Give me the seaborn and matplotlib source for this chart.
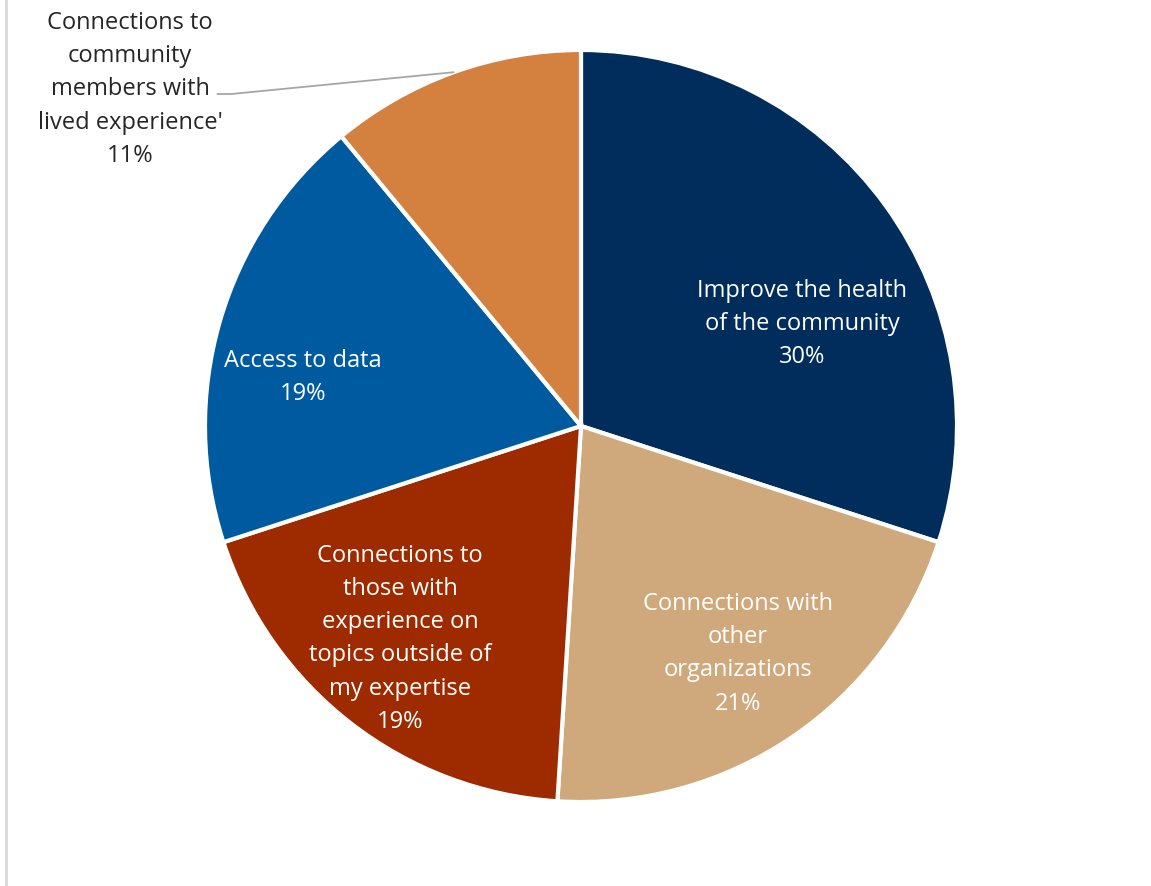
import matplotlib
matplotlib.use("Agg")
import matplotlib.pyplot as plt
import seaborn as sns
import numpy as np
from matplotlib.lines import Line2D

sns.set_theme(style="white")
plt.rcParams["font.family"] = ["Open Sans", "DejaVu Sans"]

# Survey shares (percent), drawn clockwise from 12 o'clock
categories = [
    "Improve the health\nof the community",
    "Connections with\nother\norganizations",
    "Connections to\nthose with\nexperience on\ntopics outside of\nmy expertise",
    "Access to data",
    "Connections to\ncommunity\nmembers with\nlived experience'",
]
shares = [30, 21, 19, 19, 11]
colors = ["#002d5c", "#cfa97b", "#9e2a00", "#005aa0", "#d4813f"]
text_colors = ["white", "white", "white", "white", "#262626"]

# Label anchor points, in units of the pie radius
label_pos = [(0.588, 0.272), (0.418, -0.606), (-0.481, -0.566),
             (-0.739, 0.128), (-1.199, 0.895)]

fig = plt.figure(figsize=(11.51, 8.86), dpi=100)
ax = fig.add_axes([205 / 1151, 84 / 886, 752 / 1151, 752 / 886])

wedges, _ = ax.pie(
    shares,
    colors=colors,
    startangle=90,
    counterclock=False,
    radius=1.0,
    wedgeprops=dict(edgecolor="white", linewidth=3),
)
ax.set_xlim(-1, 1)
ax.set_ylim(-1, 1)
ax.set_aspect("equal")
ax.axis("off")

for name, val, (x, y), tc in zip(categories, shares, label_pos, text_colors):
    ax.text(x, y, f"{name}\n{val}%", ha="center", va="center",
            fontsize=17, color=tc, linespacing=1.51, clip_on=False)

# Leader line for the small outside label
w = wedges[4]
mid = np.deg2rad((w.theta1 + w.theta2) / 2)
ex, ey = np.cos(mid), np.sin(mid)
ax.plot([-0.967, -0.93, ex], [0.883, 0.883, ey], color="#a6a6a6",
        linewidth=1.3, clip_on=False)

# Left chart-area border
fig.add_artist(Line2D([6 / 1151, 6 / 1151], [0, 1], transform=fig.transFigure,
                      color="#d9d9d9", linewidth=2))

fig.savefig("out.png", dpi=100, facecolor="white")
